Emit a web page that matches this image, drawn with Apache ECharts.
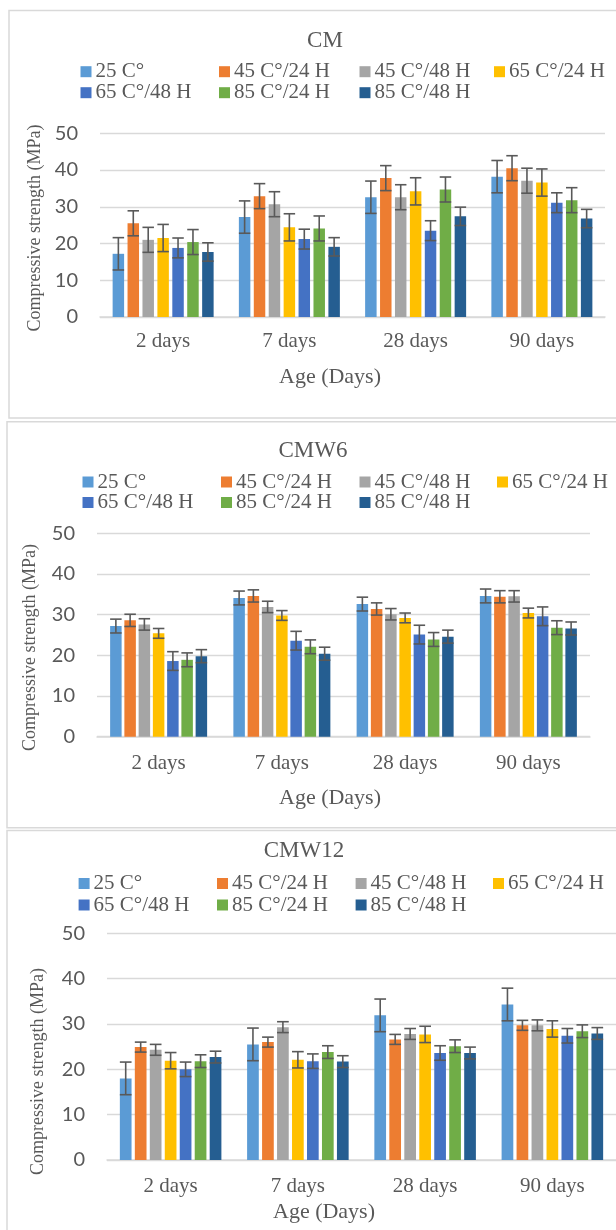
<!DOCTYPE html>
<html>
<head>
<meta charset="utf-8">
<script src="https://cdn.jsdelivr.net/npm/echarts@6/dist/echarts.min.js"></script>
<style>
html,body{margin:0;padding:0;background:#fff;}
#chart{width:616px;height:1230px;}
</style>
</head>
<body>
<div id="chart"></div>
<script>
// ---------- DATA ----------
const categories = ['2 days', '7 days', '28 days', '90 days'];
const seriesNames = ['25 C°', '45 C°/24 H', '45 C°/48 H', '65 C°/24 H', '65 C°/48 H', '85 C°/24 H', '85 C°/48 H'];
const yTicks = [0, 10, 20, 30, 40, 50];
const panelTitles = ['CM', 'CMW6', 'CMW12'];
const xAxisTitle = 'Age (Days)';
const yAxisTitle = 'Compressive strength (MPa)';

// values: one row per series, one column per age
const cmValues = [
  [17.2, 27.2, 32.6, 38.2],
  [25.5, 32.9, 37.8, 40.5],
  [21.0, 30.7, 32.6, 37.1],
  [21.5, 24.4, 34.2, 36.6],
  [18.8, 21.2, 23.5, 31.1],
  [20.4, 24.1, 34.7, 31.8],
  [17.7, 19.1, 27.4, 26.8]
];
const cmErrors = [
  [4.4, 4.4, 4.4, 4.4],
  [3.4, 3.4, 3.4, 3.4],
  [3.4, 3.4, 3.4, 3.4],
  [3.7, 3.7, 3.7, 3.7],
  [2.7, 2.7, 2.7, 2.7],
  [3.4, 3.4, 3.4, 3.4],
  [2.5, 2.5, 2.5, 2.5]
];
const cmw6Values = [
  [27.2, 34.1, 32.6, 34.6],
  [28.6, 34.6, 31.4, 34.4],
  [27.6, 31.9, 30.1, 34.5],
  [25.4, 29.8, 29.2, 30.4],
  [18.6, 23.6, 25.1, 29.6],
  [18.9, 22.1, 23.9, 26.8],
  [19.8, 20.4, 24.6, 26.6]
];
const cmw6Errors = [
  [1.7, 1.7, 1.7, 1.7],
  [1.5, 1.5, 1.5, 1.5],
  [1.4, 1.4, 1.4, 1.4],
  [1.2, 1.2, 1.2, 1.2],
  [2.3, 2.3, 2.3, 2.3],
  [1.7, 1.7, 1.7, 1.7],
  [1.6, 1.6, 1.6, 1.6]
];
const cmw12Values = [
  [18.0, 25.5, 31.9, 34.3],
  [24.9, 26.0, 26.6, 29.7],
  [24.3, 29.3, 27.8, 29.7],
  [21.9, 22.1, 27.7, 28.9],
  [20.0, 21.8, 23.6, 27.4],
  [21.8, 23.8, 25.1, 28.4],
  [22.7, 21.7, 23.6, 27.9]
];
const cmw12Errors = [
  [3.6, 3.6, 3.6, 3.6],
  [1.1, 1.1, 1.1, 1.1],
  [1.2, 1.2, 1.2, 1.2],
  [1.8, 1.8, 1.8, 1.8],
  [1.6, 1.6, 1.6, 1.6],
  [1.4, 1.4, 1.4, 1.4],
  [1.3, 1.3, 1.3, 1.3]
];

// ---------- STYLE / LAYOUT ----------
const colors = ['#5B9BD5', '#ED7D31', '#A5A5A5', '#FFC000', '#4472C4', '#70AD47', '#255E91'];
const SERIF = "'Liberation Serif', 'Times New Roman', serif";
const SANS = "Lato, 'Open Sans', sans-serif";
const TXT = '#595959';
const GRIDC = '#d9d9d9';

const layouts = [
  { values: cmValues, errors: cmErrors,
    grid: { left: 100, top: 133.3, width: 505, height: 183.7 },
    barGap: 0.30, catGap: 0.20, labelMargin: 14,
    title: [325, 41.7], legendX: [80.5, 219, 359.5, 494], legendY: [71.7, 92.7],
    xTitle: [330, 377], yTitle: [35, 228],
    border: { x: 9, y: 10.5, h: 407.5 } },
  { values: cmw6Values, errors: cmw6Errors,
    grid: { left: 97, top: 533.3, width: 493, height: 203.4 },
    barGap: 0.24, catGap: 0.213, labelMargin: 16,
    title: [313, 451.7], legendX: [82.5, 221, 359.5, 497], legendY: [482, 502.5],
    xTitle: [330, 798], yTitle: [30, 647.5],
    border: { x: 7, y: 421.7, h: 406 } },
  { values: cmw12Values, errors: cmw12Errors,
    grid: { left: 107, top: 933.3, width: 510, height: 226.7 },
    barGap: 0.28, catGap: 0.202, labelMargin: 16,
    title: [304, 851.7], legendX: [78.6, 217, 355.6, 493], legendY: [883.5, 905],
    xTitle: [324, 1212], yTitle: [38, 1071.5],
    border: { x: 7, y: 830.5, h: 500 } }
];

const grids = [], xAxes = [], yAxes = [], series = [], titles = [], legends = [], graphics = [];

function makeErrRender(n, gapPct, catGapPct) {
  return function (params, api) {
    const ci = api.value(0), si = api.value(1), v = api.value(2), e = api.value(3);
    const band = api.size([1, 0])[0];
    const avail = band * (1 - catGapPct);
    const w = avail / (n + (n - 1) * gapPct);
    const cx = api.coord([ci, 0])[0] - avail / 2 + si * w * (1 + gapPct) + w / 2;
    const yt = api.coord([ci, v + e])[1];
    const yb = api.coord([ci, v - e])[1];
    const hw = w / 2;
    const st = { stroke: '#595959', lineWidth: 1.6 };
    return {
      type: 'group',
      children: [
        { type: 'line', shape: { x1: cx, y1: yt, x2: cx, y2: yb }, style: st },
        { type: 'line', shape: { x1: cx - hw, y1: yt, x2: cx + hw, y2: yt }, style: st },
        { type: 'line', shape: { x1: cx - hw, y1: yb, x2: cx + hw, y2: yb }, style: st }
      ]
    };
  };
}

layouts.forEach((L, p) => {
  grids.push(Object.assign({ containLabel: false }, L.grid));
  xAxes.push({
    type: 'category', gridIndex: p, data: categories,
    axisLine: { lineStyle: { color: GRIDC, width: 1.5 } },
    axisTick: { show: false },
    axisLabel: { fontFamily: SERIF, fontSize: 21, color: TXT, margin: L.labelMargin }
  });
  yAxes.push({
    type: 'value', gridIndex: p, min: yTicks[0], max: yTicks[yTicks.length - 1], interval: 10,
    axisLine: { show: false }, axisTick: { show: false },
    splitLine: { lineStyle: { color: GRIDC, width: 1.4 } },
    axisLabel: { fontFamily: SANS, fontSize: 20, color: TXT, margin: 22 }
  });
  seriesNames.forEach((name, si) => {
    series.push({
      type: 'bar', name: name, xAxisIndex: p, yAxisIndex: p,
      data: L.values[si],
      itemStyle: { color: colors[si] },
      barGap: (L.barGap * 100) + '%', barCategoryGap: (L.catGap * 100) + '%',
      silent: true
    });
  });
  const errData = [];
  seriesNames.forEach((name, si) => {
    categories.forEach((c, ci) => {
      errData.push([ci, si, L.values[si][ci], L.errors[si][ci]]);
    });
  });
  series.push({
    type: 'custom', name: 'err' + p, xAxisIndex: p, yAxisIndex: p, z: 10,
    renderItem: makeErrRender(seriesNames.length, L.barGap, L.catGap),
    data: errData, silent: true
  });
  titles.push({
    text: panelTitles[p], left: L.title[0], top: L.title[1] - 12, textAlign: 'center', padding: 0,
    textStyle: { fontFamily: SERIF, fontSize: 23, fontWeight: 'normal', color: TXT }
  });
  seriesNames.forEach((name, si) => {
    const col = si % 4, row = Math.floor(si / 4);
    legends.push({
      data: [name], left: L.legendX[col], top: L.legendY[row] - 10.5, padding: 0,
      icon: 'rect', itemWidth: 11, itemHeight: 11, selectedMode: false,
      textStyle: { fontFamily: SERIF, fontSize: 21, color: TXT, padding: [0, 0, 0, -1] }
    });
  });
  graphics.push({
    type: 'rect', shape: { x: L.border.x, y: L.border.y, width: 660, height: L.border.h },
    style: { fill: 'none', stroke: GRIDC, lineWidth: 1.5 }, silent: true, z: -1
  });
  graphics.push({
    type: 'text', x: L.xTitle[0], y: L.xTitle[1],
    style: { text: xAxisTitle, font: '22px ' + SERIF, fill: TXT, textAlign: 'center', textVerticalAlign: 'middle' }
  });
  graphics.push({
    type: 'text', x: L.yTitle[0], y: L.yTitle[1], rotation: Math.PI / 2,
    style: { text: yAxisTitle, font: '18px ' + SERIF, fill: TXT, textAlign: 'center', textVerticalAlign: 'middle' }
  });
});

const chart = echarts.init(document.getElementById('chart'), null, { renderer: 'canvas' });
chart.setOption({
  animation: false,
  backgroundColor: '#fff',
  title: titles,
  legend: legends,
  grid: grids,
  xAxis: xAxes,
  yAxis: yAxes,
  series: series,
  graphic: graphics
});
</script>
</body>
</html>
